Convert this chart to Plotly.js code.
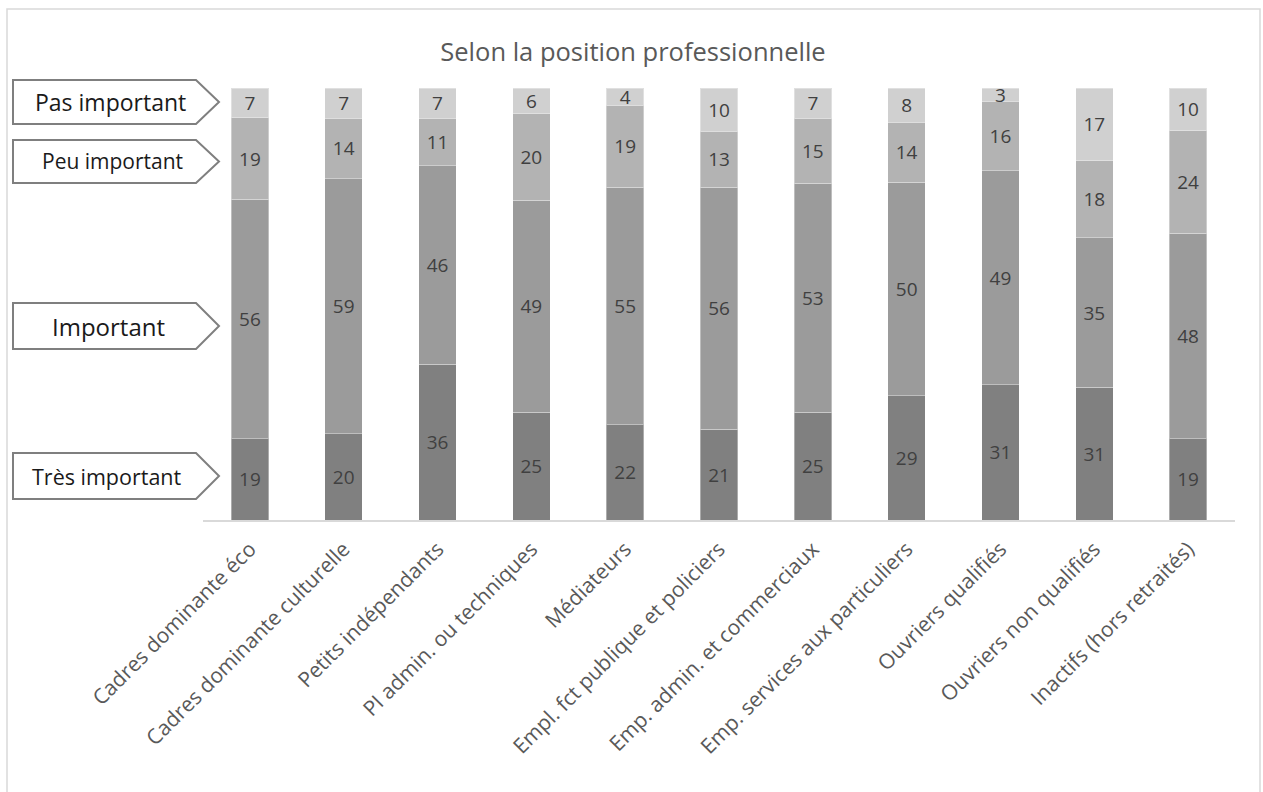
<!DOCTYPE html>
<html><head><meta charset="utf-8">
<script src="https://cdn.plot.ly/plotly-3.0.1.min.js"></script>
<style>html,body{margin:0;padding:0;background:#fff}#chart{width:1263px;height:792px}</style>
</head><body><div id="chart"></div>
<script>
const categories = ['Cadres dominante éco','Cadres dominante culturelle','Petits indépendants','PI admin. ou techniques','Médiateurs','Empl. fct publique et policiers','Emp. admin. et commerciaux','Emp. services aux particuliers','Ouvriers qualifiés','Ouvriers non qualifiés','Inactifs (hors retraités)'];
const tresImportant = [19,20,36,25,22,21,25,29,31,31,19];
const important     = [56,59,46,49,55,56,53,50,49,35,48];
const peuImportant  = [19,14,11,20,19,13,15,14,16,18,24];
const pasImportant  = [7,7,7,6,4,10,7,8,3,17,10];
const seriesNames = ['Très important','Important','Peu important','Pas important'];
const titleText = 'Selon la position professionnelle';

const seriesValues = [tresImportant, important, peuImportant, pasImportant];
const seriesColors = ['#808080','#9b9b9b','#b3b3b3','#d0d0d0'];
const FONT = '"Open Sans", "DejaVu Sans", sans-serif';

const traces = seriesValues.map((vals, i) => ({
  type: 'bar',
  name: seriesNames[i],
  x: categories,
  y: vals,
  text: vals.map(String),
  texttemplate: '%{text}',
  textposition: 'inside',
  insidetextanchor: 'middle',
  constraintext: 'none',
  textangle: 0,
  textfont: {family: FONT, size: 19, color: '#404040'},
  marker: {color: seriesColors[i], line: {color: 'rgba(255,255,255,0.35)', width: 1}},
  hoverinfo: 'skip'
}));

// plot area in pixels
const L = 203, R = 1235, T = 88, B = 520;
const W = 1263, H = 792;
const px = p => (p - L) / (R - L);
const py = p => (B - p) / (B - T);

const arrows = [
  {label: 'Pas important', top: 80, bot: 124, size: 23, cx: 110},
  {label: 'Peu important', top: 140, bot: 183, size: 21, cx: 112},
  {label: 'Important', top: 303, bot: 349, size: 24, cx: 108},
  {label: 'Très important', top: 453, bot: 499, size: 21.5, cx: 107}
];
const shapes = [];
const annotations = [];
arrows.forEach(a => {
  const x0 = 13, x1 = 196, xt = 219, ym = (a.top + a.bot) / 2;
  shapes.push({
    type: 'path', xref: 'paper', yref: 'paper',
    path: `M ${px(x0)},${py(a.top)} L ${px(x1)},${py(a.top)} L ${px(xt)},${py(ym)} L ${px(x1)},${py(a.bot)} L ${px(x0)},${py(a.bot)} Z`,
    line: {color: '#7f7f7f', width: 2}, fillcolor: '#ffffff'
  });
  annotations.push({
    xref: 'paper', yref: 'paper', x: px(a.cx), y: py(ym),
    xanchor: 'center', yanchor: 'middle', showarrow: false,
    text: a.label, font: {family: FONT, size: a.size, color: '#1a1a1a'}
  });
});
// chart border
shapes.push({
  type: 'rect', xref: 'paper', yref: 'paper',
  x0: px(7), x1: px(1260), y0: py(9), y1: py(800),
  line: {color: '#d9d9d9', width: 1.5}, fillcolor: 'rgba(0,0,0,0)', layer: 'below'
});

const layout = {
  width: W, height: H,
  margin: {l: L, r: W - R, t: T, b: H - B, pad: 0},
  barmode: 'stack',
  barnorm: 'percent',
  bargap: 0.6,
  showlegend: false,
  paper_bgcolor: '#ffffff', plot_bgcolor: '#ffffff',
  title: {text: titleText, font: {family: FONT, size: 25.5, color: '#595959'},
          x: 633 / W, xref: 'container', y: 1 - 52 / H, yref: 'container', xanchor: 'center', yanchor: 'middle'},
  xaxis: {
    tickangle: -45, tickfont: {family: FONT, size: 21, color: '#595959'},
    ticklabelshift: 0, ticklabelstandoff: 7,
    showline: true, linecolor: '#d9d9d9', linewidth: 1.5,
    ticks: '', showgrid: false, zeroline: false, automargin: false
  },
  yaxis: {range: [0, 100], visible: false, showgrid: false, zeroline: false, fixedrange: true},
  shapes: shapes,
  annotations: annotations,
  font: {family: FONT}
};

Plotly.newPlot('chart', traces, layout, {displayModeBar: false, staticPlot: true});
</script>
</body></html>
